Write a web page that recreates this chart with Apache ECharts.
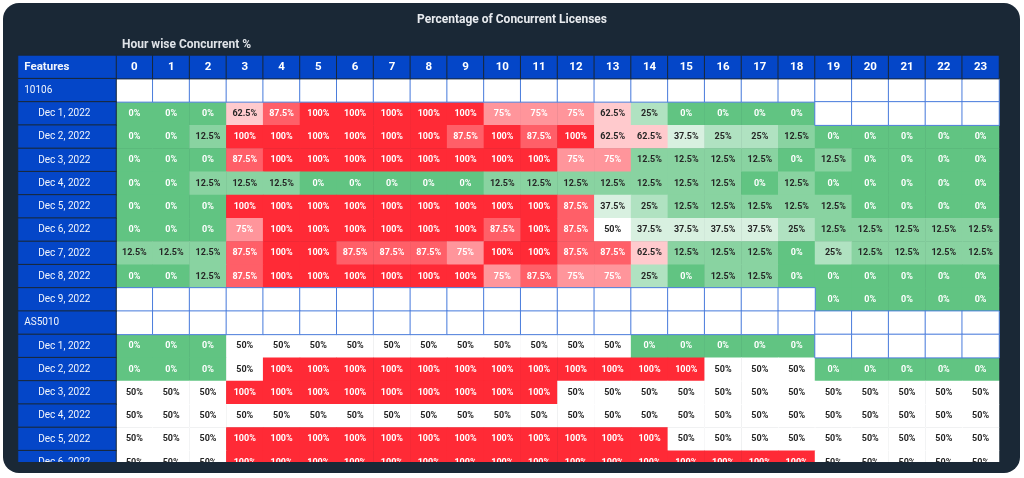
<!DOCTYPE html>
<html>
<head>
<meta charset="utf-8">
<script src="https://cdn.jsdelivr.net/npm/echarts@6/dist/echarts.min.js"></script>
<style>
html,body{margin:0;padding:0;background:#fff;}
#wrap{position:absolute;left:3px;top:3px;width:1017px;height:470px;background:#1a2836;border-radius:16px;}
#clip{position:absolute;left:0;top:0;width:1024px;height:462px;overflow:hidden;}
#chart{position:absolute;left:0;top:0;width:1024px;height:478px;}
</style>
</head>
<body>
<div id="wrap"></div>
<div id="clip"><div id="chart"></div></div>
<script>
// hours (columns)
var hours = [0,1,2,3,4,5,6,7,8,9,10,11,12,13,14,15,16,17,18,19,20,21,22,23];

// feature 10106
var dates10106 = ['Dec 1, 2022','Dec 2, 2022','Dec 3, 2022','Dec 4, 2022','Dec 5, 2022','Dec 6, 2022','Dec 7, 2022','Dec 8, 2022','Dec 9, 2022'];
var pct10106 = [
	[0,0,0,62.5,87.5,100,100,100,100,100,75,75,75,62.5,25,0,0,0,0,null,null,null,null,null],
	[0,0,12.5,100,100,100,100,100,100,87.5,100,87.5,100,62.5,62.5,37.5,25,25,12.5,0,0,0,0,0],
	[0,0,0,87.5,100,100,100,100,100,100,100,100,75,75,12.5,12.5,12.5,12.5,0,12.5,0,0,0,0],
	[0,0,12.5,12.5,12.5,0,0,0,0,0,12.5,12.5,12.5,12.5,12.5,12.5,12.5,0,12.5,0,0,0,0,0],
	[0,0,0,100,100,100,100,100,100,100,100,100,87.5,37.5,25,12.5,12.5,12.5,12.5,12.5,0,0,0,0],
	[0,0,0,75,100,100,100,100,100,100,87.5,100,87.5,50,37.5,37.5,37.5,37.5,25,12.5,12.5,12.5,12.5,12.5],
	[12.5,12.5,12.5,87.5,100,100,87.5,87.5,87.5,75,100,100,87.5,87.5,62.5,12.5,12.5,12.5,0,25,12.5,12.5,12.5,12.5],
	[0,0,12.5,87.5,100,100,100,100,100,100,75,87.5,75,75,25,0,12.5,12.5,0,0,0,0,0,0],
	[null,null,null,null,null,null,null,null,null,null,null,null,null,null,null,null,null,null,null,0,0,0,0,0]
];

// feature AS5010
var datesAS5010 = ['Dec 1, 2022','Dec 2, 2022','Dec 3, 2022','Dec 4, 2022','Dec 5, 2022','Dec 6, 2022'];
var pctAS5010 = [
	[0,0,0,50,50,50,50,50,50,50,50,50,50,50,0,0,0,0,0,null,null,null,null,null],
	[0,0,0,50,100,100,100,100,100,100,100,100,100,100,100,100,50,50,50,0,0,0,0,0],
	[50,50,50,100,100,100,100,100,100,100,100,100,50,50,50,50,50,50,50,50,50,50,50,50],
	[50,50,50,50,50,50,50,50,50,50,50,50,50,50,50,50,50,50,50,50,50,50,50,50],
	[50,50,50,100,100,100,100,100,100,100,100,100,100,100,100,50,50,50,50,50,50,50,50,50],
	[50,50,50,100,100,100,100,100,100,100,100,100,100,100,100,100,100,100,100,50,50,50,50,50]
];

var BLUE = '#0446c8';
var NAVY = '#1a2836';
var FONT = 'Roboto';

//组装行: 第0行是表头
var rows = [{label:'Features', type:'head'}];
rows.push({label:'10106', type:'group', vals:null});
for (var i = 0; i < dates10106.length; i++) rows.push({label:dates10106[i], type:'date', vals:pct10106[i]});
rows.push({label:'AS5010', type:'group', vals:null});
for (var i = 0; i < datesAS5010.length; i++) rows.push({label:datesAS5010[i], type:'date', vals:pctAS5010[i]});

var rowIdx = [];
var valueData = [], emptyData = [], headData = [], leftData = [];
for (var r = 0; r < rows.length; r++) {
	rowIdx.push(r);
	var row = rows[r];
	leftData.push({
		name: row.label,
		value: [0, r, 0],
		label: {
			distance: row.type == 'date' ? 21 : 7,
			fontWeight: row.type == 'head' ? 'bold' : 'normal',
			fontSize: row.type == 'head' ? 11.5 : 10
		}
	});
	if (row.type == 'head') {
		for (var h = 0; h < hours.length; h++) headData.push({name: String(hours[h]), value: [h, r, 0]});
		continue;
	}
	for (var h = 0; h < hours.length; h++) {
		var v = row.vals ? row.vals[h] : null;
		if (v === null) emptyData.push([h, r, 0]);
		else valueData.push([h, r, v]);
	}
}

var myChart = echarts.init(document.getElementById('chart'));
var gridTop = 55.4, rowH = 23.25;
var option = {
	animation: false,
	textStyle: { fontFamily: FONT },
	title: [
		{ text: 'Percentage of Concurrent Licenses', left: 'center', top: 9,
		  textStyle: { color: '#e8ebef', fontSize: 12, fontWeight: 'bold', fontFamily: FONT } },
		{ text: 'Hour wise Concurrent %', left: 117, top: 34,
		  textStyle: { color: '#dfe3e8', fontSize: 12, fontWeight: 'bold', fontFamily: FONT } }
	],
	grid: [
		{ left: 18, width: 98, top: gridTop, height: rowH * rows.length },
		{ left: 116, width: 883, top: gridTop, height: rowH * rows.length }
	],
	xAxis: [
		{ type: 'category', gridIndex: 0, data: ['Features'], show: false },
		{ type: 'category', gridIndex: 1, data: hours, show: false }
	],
	yAxis: [
		{ type: 'category', gridIndex: 0, data: rowIdx, inverse: true, show: false },
		{ type: 'category', gridIndex: 1, data: rowIdx, inverse: true, show: false }
	],
	visualMap: {
		show: false,
		seriesIndex: 0,
		dimension: 2,
		min: 0,
		max: 100,
		inRange: { color: ['#61c482', '#ffffff', '#ff2a36'] }
	},
	series: [
		{
			name: 'pct', type: 'heatmap', xAxisIndex: 1, yAxisIndex: 1,
			data: valueData,
			itemStyle: { borderWidth: 0 },
			emphasis: { disabled: true },
			label: {
				show: true,
				fontSize: 9,
				fontWeight: 'bold',
				fontFamily: FONT,
				formatter: function (p) {
					var v = p.value[2];
					return (v == 0 || v >= 75) ? '{w|' + v + '%}' : '{k|' + v + '%}';
				},
				rich: {
					w: { color: '#ffffff', fontSize: 9, fontWeight: 'bold', fontFamily: FONT },
					k: { color: '#262626', fontSize: 9, fontWeight: 'bold', fontFamily: FONT }
				}
			}
		},
		{
			name: 'empty', type: 'heatmap', xAxisIndex: 1, yAxisIndex: 1,
			data: emptyData, z: 3,
			itemStyle: { color: '#ffffff', borderColor: '#4b7ddc', borderWidth: 1 },
			emphasis: { disabled: true }
		},
		{
			name: 'head', type: 'heatmap', xAxisIndex: 1, yAxisIndex: 1,
			data: headData, z: 3,
			itemStyle: { color: BLUE, borderColor: NAVY, borderWidth: 1 },
			emphasis: { disabled: true },
			label: { show: true, formatter: '{b}', color: '#ffffff', fontSize: 11.5, fontWeight: 'bold', fontFamily: FONT }
		},
		{
			name: 'rows', type: 'heatmap', xAxisIndex: 0, yAxisIndex: 0,
			data: leftData, z: 3,
			itemStyle: { color: BLUE, borderColor: NAVY, borderWidth: 1 },
			emphasis: { disabled: true },
			label: { show: true, position: 'insideLeft', formatter: '{b}', color: '#f2f5fc', fontSize: 10, fontFamily: FONT }
		}
	]
};
myChart.setOption(option);
</script>
</body>
</html>
